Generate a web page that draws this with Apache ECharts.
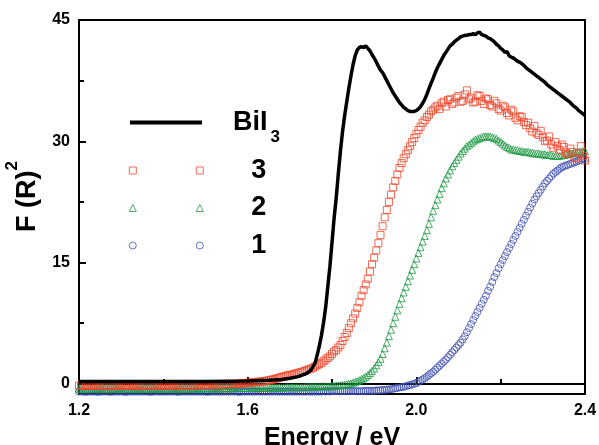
<!DOCTYPE html>
<html>
<head>
<meta charset="utf-8">
<script src="https://cdn.jsdelivr.net/npm/echarts@6/dist/echarts.min.js"></script>
<style>
  html, body { margin: 0; padding: 0; background: #ffffff; }
  #chart { width: 599px; height: 445px; }
</style>
</head>
<body>
<div id="chart"></div>
<script>
// Diffuse-reflectance (Kubelka–Munk) spectra: F(R)^2 against photon energy.
const FONT = '"Liberation Sans", Arial, Helvetica, sans-serif';

const xTicks = [1.2, 1.6, 2.0, 2.4];
const yTicks = [0, 15, 30, 45];
const yMinorTicks = [7.5, 22.5, 37.5];

// Sampling grid of the three samples (eV)
const energy = [
  1.200,1.205,1.210,1.215,1.220,1.225,1.230,1.235,1.240,1.245,
  1.250,1.255,1.260,1.265,1.270,1.275,1.280,1.285,1.290,1.295,
  1.300,1.305,1.310,1.315,1.320,1.325,1.330,1.335,1.340,1.345,
  1.350,1.355,1.360,1.365,1.370,1.375,1.380,1.385,1.390,1.395,
  1.400,1.405,1.410,1.415,1.420,1.425,1.430,1.435,1.440,1.445,
  1.450,1.455,1.460,1.465,1.470,1.475,1.480,1.485,1.490,1.495,
  1.500,1.505,1.510,1.515,1.520,1.525,1.530,1.535,1.540,1.545,
  1.550,1.555,1.560,1.565,1.570,1.575,1.580,1.585,1.590,1.595,
  1.600,1.605,1.610,1.615,1.620,1.625,1.630,1.635,1.640,1.645,
  1.650,1.655,1.660,1.665,1.670,1.675,1.680,1.685,1.690,1.695,
  1.700,1.705,1.710,1.715,1.720,1.725,1.730,1.735,1.740,1.745,
  1.750,1.755,1.760,1.765,1.770,1.775,1.780,1.785,1.790,1.795,
  1.800,1.805,1.810,1.815,1.820,1.825,1.830,1.835,1.840,1.845,
  1.850,1.855,1.860,1.865,1.870,1.875,1.880,1.885,1.890,1.895,
  1.900,1.905,1.910,1.915,1.920,1.925,1.930,1.935,1.940,1.945,
  1.950,1.955,1.960,1.965,1.970,1.975,1.980,1.985,1.990,1.995,
  2.000,2.005,2.010,2.015,2.020,2.025,2.030,2.035,2.040,2.045,
  2.050,2.055,2.060,2.065,2.070,2.075,2.080,2.085,2.090,2.095,
  2.100,2.105,2.110,2.115,2.120,2.125,2.130,2.135,2.140,2.145,
  2.150,2.155,2.160,2.165,2.170,2.175,2.180,2.185,2.190,2.195,
  2.200,2.205,2.210,2.215,2.220,2.225,2.230,2.235,2.240,2.245,
  2.250,2.255,2.260,2.265,2.270,2.275,2.280,2.285,2.290,2.295,
  2.300,2.305,2.310,2.315,2.320,2.325,2.330,2.335,2.340,2.345,
  2.350,2.355,2.360,2.365,2.370,2.375,2.380,2.385,2.390,2.395,
  2.400
];

// Sample 3 (squares), one value per energy
const sample3 = [
  -0.2,-0.2,-0.2,-0.25,-0.2,-0.2,-0.2,-0.15,-0.2,-0.2,
  -0.15,-0.2,-0.2,-0.2,-0.2,-0.25,-0.2,-0.2,-0.2,-0.2,
  -0.2,-0.2,-0.15,-0.2,-0.2,-0.2,-0.2,-0.2,-0.2,-0.25,
  -0.25,-0.2,-0.2,-0.2,-0.2,-0.2,-0.15,-0.2,-0.2,-0.2,
  -0.2,-0.2,-0.2,-0.2,-0.15,-0.2,-0.2,-0.2,-0.2,-0.2,
  -0.2,-0.2,-0.15,-0.2,-0.2,-0.15,-0.15,-0.15,-0.15,-0.15,
  -0.15,-0.15,-0.15,-0.1,-0.1,-0.1,-0.1,-0.1,-0.1,-0.05,
  -0.05,-0.05,0,0,0,0,0.05,0.05,0.1,0.1,
  0.15,0.15,0.2,0.2,0.25,0.25,0.3,0.3,0.35,0.4,
  0.45,0.5,0.55,0.6,0.7,0.75,0.85,0.9,1.0,1.05,
  1.1,1.15,1.2,1.3,1.35,1.45,1.5,1.6,1.7,1.8,
  1.9,2.0,2.15,2.3,2.45,2.6,2.8,3.0,3.2,3.4,
  3.7,4.0,4.2,4.5,4.8,5.3,5.8,6.3,6.9,7.5,
  8.1,8.7,9.4,10.1,10.9,11.6,12.3,13.0,13.9,14.8,
  15.6,16.5,17.4,18.4,19.5,20.6,21.5,22.5,23.4,24.3,
  25.1,25.9,26.7,27.3,27.9,28.4,28.9,29.4,29.9,30.4,
  30.9,31.4,31.8,32.3,32.6,33.0,33.3,33.7,33.9,34.2,
  34.4,34.0,34.7,34.9,34.3,35.1,35.2,34.6,34.8,35.4,
  35.6,34.9,35.0,35.8,36.3,35.2,35.4,34.8,34.9,35.7,
  35.6,35.0,34.6,35.3,35.2,34.5,34.3,35.0,34.7,34.0,
  33.8,34.4,34.2,33.5,33.2,33.9,33.7,32.9,32.6,33.1,
  33.0,32.4,32.0,32.3,31.6,31.2,31.9,31.0,30.8,31.3,
  30.5,30.0,30.1,30.6,29.6,29.2,29.9,29.4,28.9,29.6,
  29.3,28.6,28.4,29.1,28.7,28.0,27.9,28.5,29.4,28.2,
  27.6
];

// Sample 2 (triangles)
const sample2 = [
  -0.6,-0.6,-0.6,-0.6,-0.65,-0.6,-0.6,-0.6,-0.6,-0.6,
  -0.6,-0.6,-0.6,-0.65,-0.6,-0.6,-0.6,-0.6,-0.6,-0.6,
  -0.6,-0.6,-0.6,-0.6,-0.6,-0.6,-0.65,-0.6,-0.6,-0.6,
  -0.6,-0.6,-0.6,-0.6,-0.6,-0.6,-0.6,-0.6,-0.6,-0.6,
  -0.6,-0.6,-0.6,-0.6,-0.55,-0.6,-0.6,-0.6,-0.6,-0.6,
  -0.6,-0.6,-0.6,-0.6,-0.55,-0.55,-0.6,-0.55,-0.55,-0.55,
  -0.55,-0.55,-0.55,-0.55,-0.55,-0.55,-0.55,-0.55,-0.55,-0.55,
  -0.5,-0.55,-0.55,-0.5,-0.5,-0.5,-0.5,-0.5,-0.5,-0.5,
  -0.5,-0.5,-0.5,-0.5,-0.5,-0.5,-0.45,-0.45,-0.5,-0.45,
  -0.45,-0.45,-0.45,-0.45,-0.45,-0.45,-0.45,-0.45,-0.4,-0.4,
  -0.4,-0.4,-0.4,-0.4,-0.4,-0.4,-0.4,-0.4,-0.35,-0.35,
  -0.35,-0.35,-0.35,-0.35,-0.3,-0.3,-0.3,-0.3,-0.3,-0.3,
  -0.25,-0.25,-0.2,-0.2,-0.15,-0.15,-0.1,-0.05,0.0,0.05,
  0.15,0.25,0.35,0.45,0.6,0.75,0.9,1.1,1.35,1.6,
  1.9,2.3,2.7,3.1,3.7,4.4,5.1,5.9,6.7,7.5,
  8.3,9.1,9.9,10.6,11.3,12.0,12.7,13.4,14.1,14.8,
  15.5,16.2,16.9,17.6,18.3,19.0,19.8,20.6,21.4,22.1,
  22.8,23.5,24.2,24.8,25.4,25.9,26.4,26.9,27.3,27.7,
  28.1,28.5,28.8,29.1,29.4,29.6,29.8,30.0,30.2,30.3,
  30.4,30.5,30.6,30.6,30.6,30.6,30.5,30.4,30.3,30.1,
  29.9,29.7,29.5,29.3,29.2,29.0,29.0,28.9,28.9,28.8,
  28.8,28.7,28.7,28.7,28.6,28.6,28.5,28.5,28.5,28.4,
  28.4,28.4,28.3,28.3,28.3,28.2,28.2,28.2,28.2,28.3,
  28.3,28.4,28.4,28.5,28.5,28.6,28.6,28.7,28.7,28.8,
  28.8
];

// Sample 1 (circles)
const sample1 = [
  -0.95,-0.95,-0.95,-1.0,-0.95,-0.95,-0.95,-0.95,-0.95,-1.0,
  -0.95,-0.95,-0.95,-0.95,-0.95,-1.0,-0.95,-0.95,-0.95,-0.95,
  -0.95,-0.95,-1.0,-0.95,-0.95,-0.95,-0.95,-0.95,-0.95,-0.95,
  -0.95,-0.95,-0.95,-0.95,-1.0,-0.95,-0.95,-0.95,-0.95,-0.95,
  -0.95,-0.95,-0.95,-0.95,-0.95,-0.95,-0.95,-1.0,-0.95,-0.95,
  -0.95,-0.95,-0.95,-0.95,-0.95,-0.95,-0.95,-0.95,-0.95,-0.95,
  -0.95,-1.0,-0.95,-0.95,-0.95,-0.95,-0.95,-0.95,-0.95,-0.95,
  -0.95,-0.95,-0.95,-0.95,-0.95,-0.95,-1.0,-0.95,-0.95,-0.95,
  -0.95,-0.95,-0.95,-0.95,-0.95,-0.95,-0.95,-0.95,-0.95,-0.95,
  -0.95,-0.95,-0.95,-0.95,-0.95,-0.95,-0.95,-0.95,-0.95,-0.95,
  -0.95,-0.95,-0.95,-0.95,-0.95,-0.95,-0.95,-0.95,-0.95,-0.95,
  -0.95,-0.95,-0.95,-0.95,-0.95,-0.95,-0.9,-0.95,-0.9,-0.95,
  -0.9,-0.9,-0.9,-0.9,-0.9,-0.9,-0.9,-0.9,-0.9,-0.9,
  -0.9,-0.9,-0.9,-0.9,-0.9,-0.9,-0.85,-0.85,-0.85,-0.85,
  -0.85,-0.8,-0.8,-0.8,-0.75,-0.75,-0.7,-0.7,-0.65,-0.6,
  -0.55,-0.5,-0.45,-0.4,-0.35,-0.3,-0.2,-0.15,-0.05,0.0,
  0.1,0.25,0.4,0.55,0.7,0.9,1.1,1.3,1.5,1.75,
  2.0,2.25,2.5,2.75,3.0,3.3,3.6,3.9,4.2,4.5,
  4.8,5.1,5.5,5.9,6.4,6.9,7.4,7.9,8.4,8.9,
  9.4,9.9,10.4,10.9,11.5,12.0,12.6,13.2,13.7,14.3,
  14.8,15.3,15.8,16.3,16.8,17.3,17.8,18.3,18.8,19.3,
  19.8,20.3,20.8,21.3,21.8,22.3,22.8,23.2,23.6,24.0,
  24.4,24.8,25.1,25.4,25.7,26.0,26.2,26.4,26.6,26.8,
  26.9,27.0,27.1,27.2,27.3,27.4,27.5,27.6,27.7,27.8,
  27.8
];

// BiI3 reference curve [energy eV, F(R)^2]
const bii3 = [
  [1.20,0.3],[1.30,0.3],[1.40,0.3],[1.50,0.3],[1.60,0.35],[1.65,0.45],[1.68,0.55],[1.70,0.7],[1.72,0.9],[1.74,1.3],
  [1.75,1.7],[1.76,2.6],[1.765,3.6],[1.77,4.7],[1.775,6.0],[1.78,7.6],[1.785,9.5],[1.79,12.0],[1.795,14.5],[1.80,17.5],
  [1.805,20.5],[1.81,23.0],[1.815,26.0],[1.82,28.8],[1.825,31.2],[1.83,33.2],[1.835,34.9],[1.84,36.6],[1.845,38.1],[1.85,39.5],
  [1.855,40.6],[1.86,41.3],[1.865,41.6],[1.87,41.7],[1.875,41.6],[1.88,41.8],[1.885,41.5],[1.89,41.2],[1.895,40.7],[1.90,40.3],
  [1.905,39.8],[1.91,39.3],[1.915,38.8],[1.92,38.5],[1.925,38.0],[1.93,37.5],[1.935,37.0],[1.94,36.5],[1.945,36.0],[1.95,35.6],
  [1.955,35.2],[1.96,34.8],[1.965,34.5],[1.97,34.2],[1.975,34.0],[1.98,33.8],[1.985,33.7],[1.99,33.7],[1.995,33.7],[2.00,33.8],
  [2.005,34.0],[2.01,34.3],[2.015,34.7],[2.02,35.2],[2.025,35.8],[2.03,36.5],[2.035,37.2],[2.04,37.8],[2.045,38.5],[2.05,39.1],
  [2.055,39.6],[2.06,40.1],[2.065,40.6],[2.07,41.0],[2.075,41.4],[2.08,41.8],[2.085,42.0],[2.09,42.3],[2.095,42.5],[2.10,42.7],
  [2.105,42.9],[2.11,43.0],[2.115,43.1],[2.12,43.1],[2.125,43.2],[2.13,43.2],[2.135,43.3],[2.14,43.2],[2.145,43.4],[2.15,43.5],
  [2.155,43.2],[2.16,43.1],[2.165,43.0],[2.17,42.8],[2.175,42.7],[2.18,42.5],[2.185,42.3],[2.19,42.0],[2.195,41.8],[2.20,41.5],
  [2.205,41.3],[2.21,41.0],[2.215,41.1],[2.22,40.6],[2.225,40.4],[2.23,40.3],[2.235,40.1],[2.24,39.9],[2.245,39.8],[2.25,39.6],
  [2.255,39.4],[2.26,39.1],[2.265,38.9],[2.27,38.7],[2.275,38.5],[2.28,38.3],[2.285,38.1],[2.29,37.9],[2.295,37.7],[2.30,37.5],
  [2.305,37.3],[2.31,37.0],[2.315,36.8],[2.32,36.6],[2.325,36.4],[2.33,36.2],[2.335,36.0],[2.34,35.8],[2.345,35.6],[2.35,35.4],
  [2.355,35.2],[2.36,35.0],[2.365,34.8],[2.37,34.5],[2.375,34.3],[2.38,34.1],[2.385,33.8],[2.39,33.6],[2.395,33.4],[2.40,33.2]
];

const RED = '#f0462a';
const GREEN = '#1f9a45';
const BLUE = '#3d4fb0';
const CLEAR = 'rgba(0,0,0,0)';

const pairUp = (values) => values.map((v, i) => [energy[i], v]);
const hollow = (color) => ({ color: CLEAR, borderColor: color, borderWidth: 1 });

const chart = echarts.init(document.getElementById('chart'), null, { renderer: 'canvas' });

const option = {
  animation: false,
  backgroundColor: '#ffffff',
  grid: {
    left: 79, right: 14, top: 20, bottom: 51,
    outerBoundsMode: 'none', containLabel: false,
    show: true, borderColor: '#000', borderWidth: 2, backgroundColor: 'transparent'
  },
  xAxis: {
    type: 'value', min: 1.2, max: 2.4, interval: 0.4,
    name: 'Energy / eV', nameLocation: 'middle', nameGap: 32,
    nameTextStyle: { fontFamily: FONT, fontWeight: 'bold', fontSize: 25, color: '#000' },
    axisLine: { lineStyle: { color: '#000', width: 2 } },
    axisTick: { inside: true, length: 7, lineStyle: { color: '#000', width: 2 } },
    minorTick: { show: true, splitNumber: 2, length: 5, lineStyle: { color: '#000', width: 2 } },
    axisLabel: {
      margin: 9, fontFamily: FONT, fontWeight: 'bold', fontSize: 16, color: '#000',
      customValues: xTicks, formatter: (v) => v.toFixed(1)
    },
    splitLine: { show: false }
  },
  yAxis: [
    {
      type: 'value', min: -1.25, max: 45,
      name: '{m|F (R)}{p|2}', nameLocation: 'middle', nameGap: 18,
      nameTextStyle: {
        color: '#000',
        rich: {
          m: { fontFamily: FONT, fontWeight: 'bold', fontSize: 27, color: '#000', padding: [0, 0, 0, 21] },
          p: { fontFamily: FONT, fontWeight: 'bold', fontSize: 17, color: '#000', padding: [0, 0, 30, 0] }
        }
      },
      axisLine: { lineStyle: { color: '#000', width: 2 } },
      axisTick: { inside: true, length: 7, customValues: yTicks, lineStyle: { color: '#000', width: 2 } },
      axisLabel: {
        margin: 9, fontFamily: FONT, fontWeight: 'bold', fontSize: 16, color: '#000',
        customValues: yTicks
      },
      splitLine: { show: false }
    },
    {
      type: 'value', min: -1.25, max: 45, position: 'left',
      axisLine: { show: false },
      axisTick: { inside: true, length: 5, customValues: yMinorTicks, lineStyle: { color: '#000', width: 2 } },
      axisLabel: { show: false },
      splitLine: { show: false }
    }
  ],
  legend: [
    {
      left: 130, top: 109, padding: 0, orient: 'vertical', selectedMode: false,
      itemWidth: 72, itemHeight: 4,
      data: [{ name: 'BiI3', icon: 'rect', itemStyle: { color: '#000', borderWidth: 0 } }],
      formatter: () => '{m|BiI}{s|3}',
      textStyle: {
        rich: {
          m: { fontFamily: FONT, fontWeight: 'bold', fontSize: 27, color: '#000', padding: [0, 0, 0, 26] },
          s: { fontFamily: FONT, fontWeight: 'bold', fontSize: 17, color: '#000', padding: [30, 0, 0, 3] }
        }
      }
    },
    {
      left: 128.8, top: 157, padding: 0, orient: 'vertical', selectedMode: false,
      itemWidth: 74, itemHeight: 7, itemGap: 10.5,
      data: [
        { name: '3', icon: 'path://M0,0h7v7h-7zM67,0h7v7h-7z', itemStyle: hollow(RED) },
        { name: '2', icon: 'path://M3.5,0L7,7L0,7ZM70.5,0L74,7L67,7Z', itemStyle: hollow(GREEN) },
        { name: '1', icon: 'path://M0,3.5a3.5,3.5 0 1,0 7,0a3.5,3.5 0 1,0 -7,0ZM67,3.5a3.5,3.5 0 1,0 7,0a3.5,3.5 0 1,0 -7,0Z', itemStyle: hollow(BLUE) }
      ],
      formatter: (name) => '{d|' + name + '}',
      textStyle: {
        rich: {
          d: { fontFamily: FONT, fontWeight: 'bold', fontSize: 27, color: '#000', padding: [0, 0, 0, 43] }
        }
      }
    }
  ],
  series: [
    {
      name: '1', type: 'scatter', data: pairUp(sample1), symbol: 'circle', symbolSize: 7,
      itemStyle: hollow(BLUE), emphasis: { disabled: true }, silent: true
    },
    {
      name: '2', type: 'scatter', data: pairUp(sample2), symbol: 'triangle', symbolSize: 7,
      itemStyle: hollow(GREEN), emphasis: { disabled: true }, silent: true
    },
    {
      name: '3', type: 'scatter', data: pairUp(sample3), symbol: 'rect', symbolSize: 7,
      itemStyle: hollow(RED), emphasis: { disabled: true }, silent: true
    },
    {
      name: 'BiI3', type: 'line', data: bii3, showSymbol: false, symbol: 'none',
      lineStyle: { color: '#000', width: 3.5 }, emphasis: { disabled: true }, silent: true
    }
  ]
};

chart.setOption(option);
</script>
</body>
</html>
